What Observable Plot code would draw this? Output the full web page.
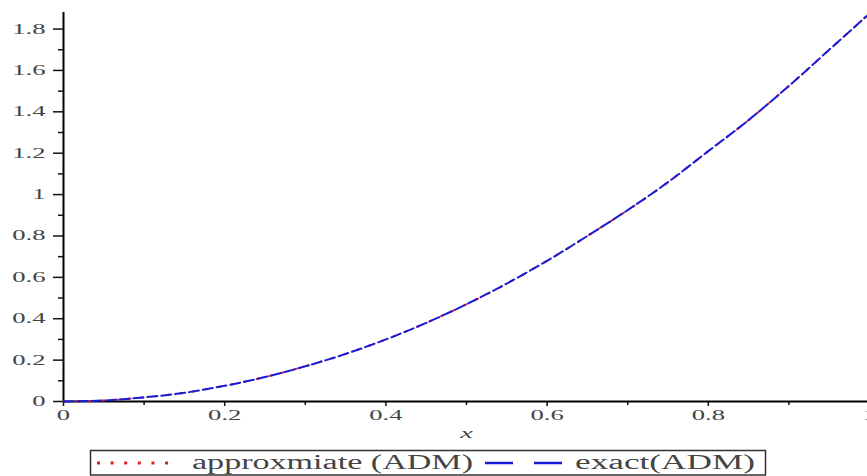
<!DOCTYPE html>
<html>
<head>
<meta charset="utf-8">
<script src="https://cdn.jsdelivr.net/npm/d3@7"></script>
<script src="https://cdn.jsdelivr.net/npm/@observablehq/plot@0.6"></script>
<style>
  html, body { margin: 0; padding: 0; background: #fff; }
  #chart svg { display: block; }
  #legend { display: block; }
</style>
</head>
<body>
<div id="chart"></div>
<svg id="legend" width="867" height="30"></svg>
<script>
// ---- data ----
const xValues = [0, 0.05, 0.1, 0.15, 0.2, 0.25, 0.3, 0.35, 0.4, 0.45, 0.5,
                 0.55, 0.6, 0.65, 0.7, 0.75, 0.8, 0.85, 0.9, 0.95, 1.0];
const approxValues = [0, 0.005, 0.02, 0.042, 0.076, 0.118, 0.17, 0.23, 0.30, 0.38, 0.47,
                      0.57, 0.68, 0.80, 0.925, 1.06, 1.21, 1.36, 1.525, 1.70, 1.875];
const exactValues  = [0, 0.005, 0.02, 0.042, 0.076, 0.118, 0.17, 0.23, 0.30, 0.38, 0.47,
                      0.57, 0.68, 0.80, 0.925, 1.06, 1.21, 1.36, 1.525, 1.70, 1.875];
const seriesNames = ["approxmiate (ADM)", "exact(ADM)"];
const yTicks = [0, 0.2, 0.4, 0.6, 0.8, 1, 1.2, 1.4, 1.6, 1.8];
const yMinorTicks = [0.1, 0.3, 0.5, 0.7, 0.9, 1.1, 1.3, 1.5, 1.7];
const xTicks = [0, 0.2, 0.4, 0.6, 0.8, 1];
const xMinorTicks = [0.1, 0.3, 0.5, 0.7, 0.9];
const xLabel = "x";

const approxData = xValues.map((x, i) => ({x, y: approxValues[i], series: seriesNames[0]}));
const exactData = xValues.map((x, i) => ({x, y: exactValues[i], series: seriesNames[1]}));

const fmt = d3.format("~g");
const serif = "'Liberation Serif', 'DejaVu Serif', serif";
const textColor = "#444";

const plot = Plot.plot({
  width: 867,
  height: 446,
  marginLeft: 63,
  marginRight: -2,
  marginTop: 12,
  marginBottom: 45,
  x: {domain: [0, 1], label: null},
  y: {domain: [0, 1.88], label: null},
  style: {fontFamily: serif, fontSize: "14px", color: textColor, background: "#fff", overflow: "hidden"},
  marks: [
    Plot.axisY({ticks: yTicks, tickSize: 10, tickPadding: 8, tickFormat: fmt, label: null, stroke: "#111", strokeWidth: 1.5, fill: textColor}),
    Plot.axisY({ticks: yMinorTicks, tickSize: 5, tickFormat: () => "", label: null, stroke: "#111", strokeWidth: 1.5}),
    Plot.axisX({ticks: xTicks, tickSize: 5, tickPadding: 4, tickFormat: fmt, label: null, stroke: "#111", strokeWidth: 1.5, fill: textColor}),
    Plot.axisX({ticks: xMinorTicks, tickSize: 4, tickFormat: () => "", label: null, stroke: "#111", strokeWidth: 1.5}),
    Plot.ruleX([0], {stroke: "#000", strokeWidth: 2}),
    Plot.ruleY([0], {stroke: "#000", strokeWidth: 2}),
    Plot.line(approxData, {x: "x", y: "y", stroke: "#e02020", strokeWidth: 2, strokeDasharray: "2,11", curve: "monotone-x"}),
    Plot.line(exactData, {x: "x", y: "y", stroke: "#1a1ad8", strokeWidth: 2, strokeDasharray: "10,4", curve: "monotone-x"}),
    Plot.text([xLabel], {frameAnchor: "bottom", dy: 36, fontStyle: "italic", fontSize: 15, fill: textColor})
  ]
});
document.getElementById("chart").appendChild(plot);

// stretch the text horizontally like the reference picture
plot.querySelectorAll("text").forEach(t => {
  const len = t.getComputedTextLength();
  if (len > 0) {
    t.setAttribute("textLength", (len * 1.9).toFixed(1));
    t.setAttribute("lengthAdjust", "spacingAndGlyphs");
  }
});

// ---- legend below the plot ----
const legend = d3.select("#legend");
legend.append("rect").attr("x", 90.5).attr("y", 4.5).attr("width", 675).attr("height", 24.5)
  .attr("fill", "#fff").attr("stroke", "#333").attr("stroke-width", 1.5);
legend.append("line").attr("x1", 97).attr("x2", 169).attr("y1", 17).attr("y2", 17)
  .attr("stroke", "#e02020").attr("stroke-width", 3).attr("stroke-dasharray", "3,10.6");
legend.append("text").attr("x", 192).attr("y", 22.5).attr("font-family", serif).attr("font-size", 20)
  .attr("fill", textColor).attr("textLength", 281).attr("lengthAdjust", "spacingAndGlyphs").text(seriesNames[0]);
legend.append("line").attr("x1", 485).attr("x2", 567).attr("y1", 17).attr("y2", 17)
  .attr("stroke", "#1a1ad8").attr("stroke-width", 2.5).attr("stroke-dasharray", "28,21");
legend.append("text").attr("x", 575).attr("y", 22.5).attr("font-family", serif).attr("font-size", 20)
  .attr("fill", textColor).attr("textLength", 180).attr("lengthAdjust", "spacingAndGlyphs").text(seriesNames[1]);
</script>
</body>
</html>
